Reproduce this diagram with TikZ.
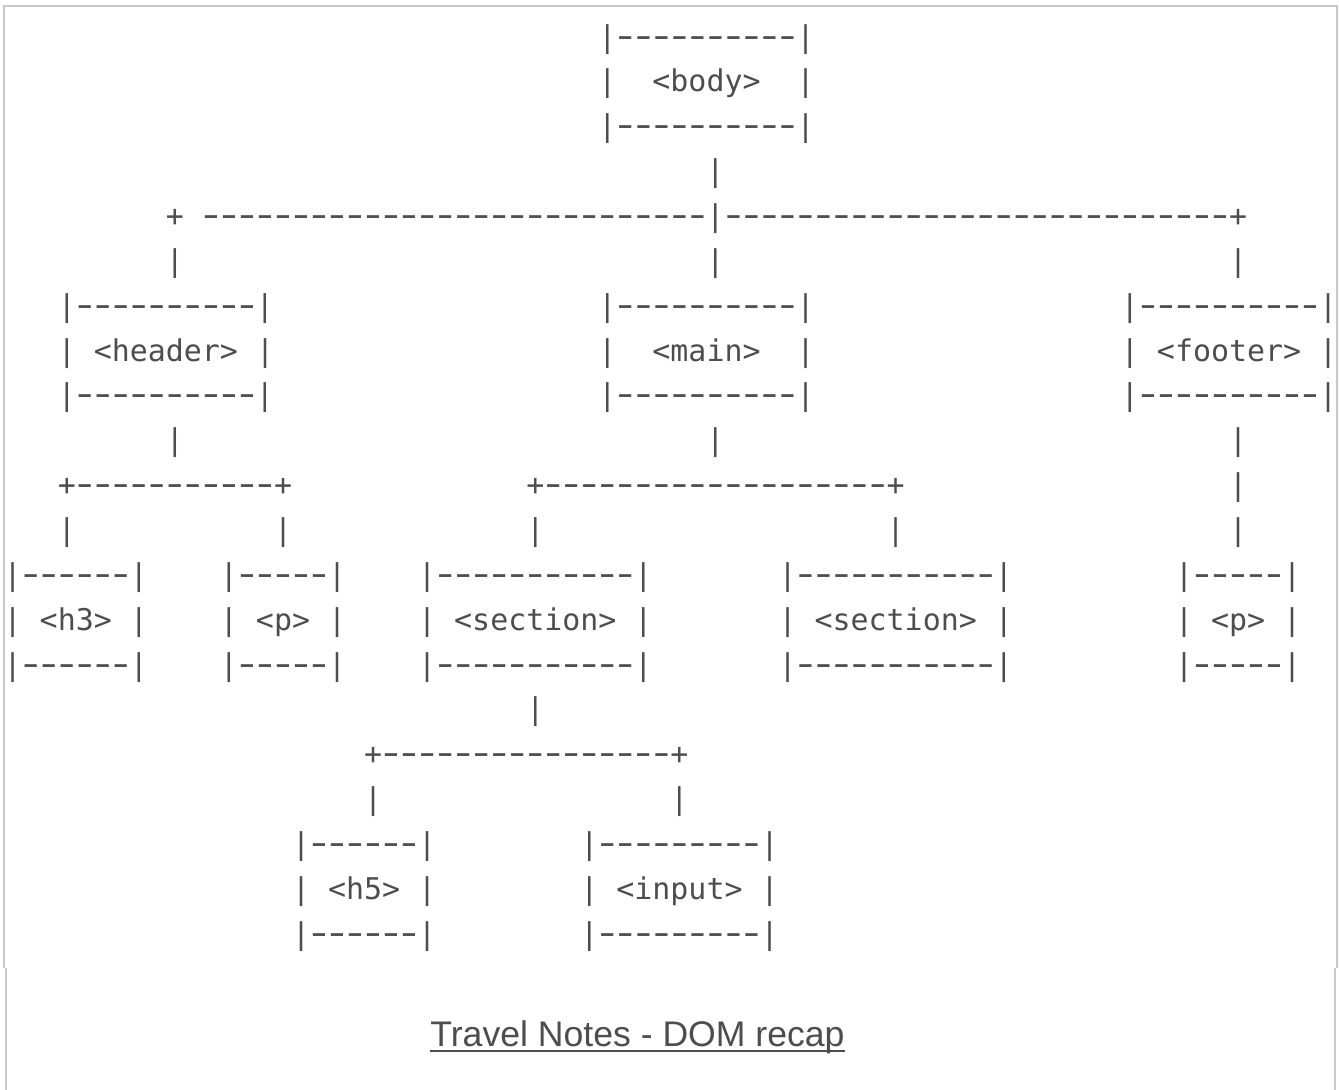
\documentclass[tikz,border=0pt]{standalone}
\usepackage{fontspec}
\usepackage{graphicx}
\setmonofont{DejaVu Sans Mono}
\newfontfamily\notefont{Liberation Sans}

\definecolor{ink}{RGB}{77,77,77}
\definecolor{panel}{RGB}{200,200,200}

% one hyphen, stretched to the look of the screen font, in one cell
\newcommand{\stretchdash}{\hbox to 9.01pt{\hss\scalebox{1.6}[1.15]{-}\hss}}
\newcommand{\dashes}[1]{\foreach \i in {1,...,#1}{\stretchdash}}
% three-line ascii box: rule line, label line, rule line
\newcommand{\tagbox}[2]{\vtop{\baselineskip=22.425pt\lineskiplimit=-\maxdimen
  \hbox{|\dashes{#1}|}\hbox{#2}\hbox{|\dashes{#1}|}}}

\tikzset{
  ascii/.style={font=\ttfamily\fontsize{14.97}{22.425}\selectfont, text=ink,
    inner sep=0pt, outer sep=0pt, anchor=base west},
  notetext/.style={font=\notefont\fontsize{17.8}{20}\selectfont, text=ink,
    inner sep=0pt, anchor=base},
  panelrule/.style={draw=panel, line width=0.6pt}
}

\begin{document}
\begin{tikzpicture}[x=0.5pt,y=-0.5pt]
  \useasboundingbox (0,0) rectangle (1339,1090);
  \draw[panelrule] (4,968) -- (4,6) -- (1337,6) -- (1337,968);
  \draw[panelrule] (6,968) -- (6,1090);
  \draw[panelrule] (1335,968) -- (1335,1090);

  \begin{scope}[shift={(3.7,47.15)},x=9.01pt,y=-22.425pt]
  % level 0
  \node[ascii] (body)   at (33,0) {\tagbox{10}{|~~<body>~~|}};
  \node[ascii] (body_v) at (39,3) {|};
  \node[ascii] (bar_0)  at (9,4)  {+~\dashes{28}|\dashes{28}+};
  \node[ascii] (head_v) at (9,5)  {|};
  \node[ascii] (main_v) at (39,5) {|};
  \node[ascii] (foot_v) at (68,5) {|};
  % level 1
  \node[ascii] (header) at (3,6)  {\tagbox{10}{|~<header>~|}};
  \node[ascii] (main)   at (33,6) {\tagbox{10}{|~~<main>~~|}};
  \node[ascii] (footer) at (62,6) {\tagbox{10}{|~<footer>~|}};
  \node[ascii] (head_d) at (9,9)  {|};
  \node[ascii] (main_d) at (39,9) {|};
  \node[ascii] (foot_d) at (68,9) {|};
  \node[ascii] (bar_h)  at (3,10) {+\dashes{11}+};
  \node[ascii] (bar_m)  at (29,10) {+\dashes{19}+};
  \node[ascii] (foot_m) at (68,10) {|};
  \node[ascii] (h3_v)   at (3,11) {|};
  \node[ascii] (hp_v)   at (15,11) {|};
  \node[ascii] (sec1_v) at (29,11) {|};
  \node[ascii] (sec2_v) at (49,11) {|};
  \node[ascii] (fp_v)   at (68,11) {|};
  % level 2
  \node[ascii] (h3)     at (0,12)  {\tagbox{6}{|~<h3>~|}};
  \node[ascii] (hp)     at (12,12) {\tagbox{5}{|~<p>~|}};
  \node[ascii] (sec1)   at (23,12) {\tagbox{11}{|~<section>~|}};
  \node[ascii] (sec2)   at (43,12) {\tagbox{11}{|~<section>~|}};
  \node[ascii] (fp)     at (65,12) {\tagbox{5}{|~<p>~|}};
  \node[ascii] (sec1_d) at (29,15) {|};
  \node[ascii] (bar_s)  at (20,16) {+\dashes{16}+};
  \node[ascii] (h5_v)   at (20,17) {|};
  \node[ascii] (in_v)   at (37,17) {|};
  % level 3
  \node[ascii] (h5)     at (16,18) {\tagbox{6}{|~<h5>~|}};
  \node[ascii] (input)  at (32,18) {\tagbox{9}{|~<input>~|}};
  \end{scope}

  \node[notetext] (title) at (637.5,1046) {Travel Notes - DOM recap};
  \draw[ink,line width=1.2pt] ([yshift=-2.4pt]title.base west) -- ([yshift=-2.4pt]title.base east);
\end{tikzpicture}
\end{document}
